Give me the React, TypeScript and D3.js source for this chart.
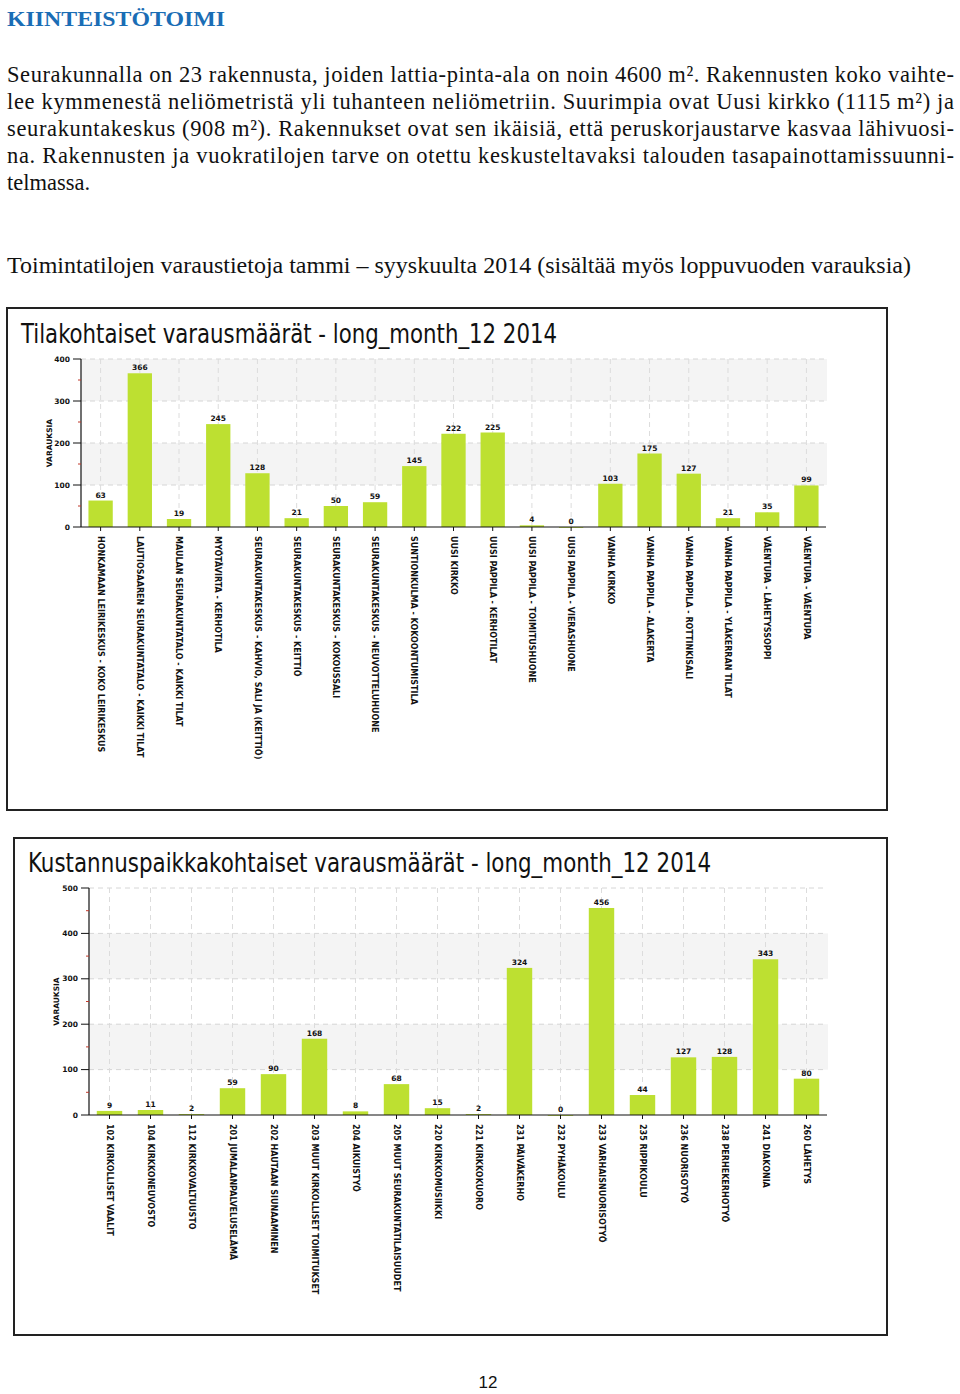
import React from "react"
import * as d3 from "d3"

// Tilakohtaiset varausmäärät
const roomNames = [
  "HONKAMAAN LEIRIKESKUS - KOKO LEIRIKESKUS",
  "LAUTIOSAAREN SEURAKUNTATALO - KAIKKI TILAT",
  "MAULAN SEURAKUNTATALO - KAIKKI TILAT",
  "MYÖTÄVIRTA - KERHOTILA",
  "SEURAKUNTAKESKUS - KAHVIO, SALI JA (KEITTIÖ)",
  "SEURAKUNTAKESKUS - KEITTIÖ",
  "SEURAKUNTAKESKUS - KOKOUSSALI",
  "SEURAKUNTAKESKUS - NEUVOTTELUHUONE",
  "SUNTIONKULMA - KOKOONTUMISTILA",
  "UUSI KIRKKO",
  "UUSI PAPPILA - KERHOTILAT",
  "UUSI PAPPILA - TOIMITUSHUONE",
  "UUSI PAPPILA - VIERASHUONE",
  "VANHA KIRKKO",
  "VANHA PAPPILA - ALAKERTA",
  "VANHA PAPPILA - ROTTINKISALI",
  "VANHA PAPPILA - YLÄKERRAN TILAT",
  "VÄENTUPA - LÄHETYSSOPPI",
  "VÄENTUPA - VÄENTUPA"
]
const roomBookings = [63, 366, 19, 245, 128, 21, 50, 59, 145, 222, 225, 4, 0, 103, 175, 127, 21, 35, 99]
const roomTicks = [0, 100, 200, 300, 400]

// Kustannuspaikkakohtaiset varausmäärät
const costNames = [
  "102 KIRKOLLISET VAALIT",
  "104 KIRKKONEUVOSTO",
  "112 KIRKKOVALTUUSTO",
  "201 JUMALANPALVELUSELÄMÄ",
  "202 HAUTAAN SIUNAAMINEN",
  "203 MUUT KIRKOLLISET TOIMITUKSET",
  "204 AIKUISTYÖ",
  "205 MUUT SEURAKUNTATILAISUUDET",
  "220 KIRKKOMUSIIKKI",
  "221 KIRKKOKUORO",
  "231 PÄIVÄKERHO",
  "232 PYHÄKOULU",
  "233 VARHAISNUORISOTYÖ",
  "235 RIPPIKOULU",
  "236 NUORISOTYÖ",
  "238 PERHEKERHOTYÖ",
  "241 DIAKONIA",
  "260 LÄHETYS"
]
const costBookings = [9, 11, 2, 59, 90, 168, 8, 68, 15, 2, 324, 0, 456, 44, 127, 128, 343, 80]
const costTicks = [0, 100, 200, 300, 400, 500]

const paragraph = [
  "Seurakunnalla on 23 rakennusta, joiden lattia-pinta-ala on noin 4600 m². Rakennusten koko vaihte-",
  "lee kymmenestä neliömetristä yli tuhanteen neliömetriin. Suurimpia ovat Uusi kirkko (1115 m²) ja",
  "seurakuntakeskus (908 m²). Rakennukset ovat sen ikäisiä, että peruskorjaustarve kasvaa lähivuosi-",
  "na. Rakennusten ja vuokratilojen tarve on otettu keskusteltavaksi talouden tasapainottamissuunni-",
  "telmassa."
]

const barColor = "#bde031"
const smallFont = "'DejaVu Sans', sans-serif"
const titleFont = "'DejaVu Sans Condensed', 'Liberation Sans Narrow', sans-serif"

function BarPanel(props) {
  const { box, title, titleX, titleY, titleLen, left, right, top, bottom, max, ticks, names, values, axisTitleX } = props

  const x = d3.scaleBand().domain(names).range([left, right]).paddingInner(0.38).paddingOuter(0.19)
  const y = d3.scaleLinear().domain([0, max]).range([bottom, top])
  const minor = d3.range(50, max, 100)
  const bands = [[100, 200], [300, 400]]

  return (
    <g>
      <rect x={box.x} y={box.y} width={box.w} height={box.h} fill="#fff" stroke="#222" strokeWidth={2} />
      <text x={titleX} y={titleY} fontFamily={titleFont} fontSize={27} fill="#111"
        textLength={titleLen} lengthAdjust="spacingAndGlyphs">{title}</text>

      {/* background bands */}
      {bands.map(b => (
        <rect key={b[0]} x={left} y={y(b[1])} width={right - left + 1} height={y(b[0]) - y(b[1])} fill="#f4f4f4" />
      ))}

      {/* grid */}
      {ticks.filter(t => t > 0).map(t => (
        <line key={t} x1={left} x2={right} y1={y(t)} y2={y(t)} stroke="#d6d6d6" strokeDasharray="5,4" />
      ))}
      {names.map(n => (
        <line key={n} x1={x(n) + x.bandwidth() / 2} x2={x(n) + x.bandwidth() / 2} y1={top} y2={bottom}
          stroke="#dcdcdc" strokeDasharray="5,4" />
      ))}

      {/* bars */}
      {names.map((n, i) => (
        <rect key={n} x={x(n)} y={y(values[i])} width={x.bandwidth()} height={Math.max(bottom - y(values[i]), 0.8)}
          fill={barColor} />
      ))}
      {names.map((n, i) => (
        <text key={n} x={x(n) + x.bandwidth() / 2} y={y(values[i]) - 3} textAnchor="middle"
          fontFamily={smallFont} fontSize={7.5} fontWeight="bold" fill="#111">{values[i]}</text>
      ))}

      {/* y axis */}
      <line x1={left} x2={left} y1={top} y2={bottom} stroke="#111" strokeWidth={1.2} />
      {ticks.map(t => (
        <g key={t}>
          <line x1={left - 8} x2={left} y1={y(t)} y2={y(t)} stroke="#111" />
          <text x={left - 11} y={y(t)} dy="0.35em" textAnchor="end" fontFamily={smallFont} fontSize={7.5}
            fontWeight="bold" fill="#111">{t}</text>
        </g>
      ))}
      {minor.map(t => (
        <line key={t} x1={left - 3} x2={left} y1={y(t)} y2={y(t)} stroke="#c0392b" />
      ))}
      <text transform={`translate(${axisTitleX},${(top + bottom) / 2}) rotate(-90)`} textAnchor="middle"
        fontFamily={smallFont} fontSize={7.5} fontWeight="bold" fill="#111">VARAUKSIA</text>

      {/* x axis */}
      <line x1={left} x2={right} y1={bottom} y2={bottom} stroke="#111" strokeWidth={1.2} />
      {names.map(n => (
        <g key={n} transform={`translate(${x(n) + x.bandwidth() / 2},${bottom})`}>
          <line y1={0} y2={4} stroke="#111" />
          <text transform="translate(0,9) rotate(90)" dy="0.35em" fontFamily={smallFont} fontSize={8}
            fontWeight="bold" fill="#111">{n}</text>
        </g>
      ))}
    </g>
  )
}

export default function App() {
  return (
    <svg width={960} height={1394} style={{ position: "absolute", left: 0, top: 0, background: "#fff" }}>
      <text x={7} y={26} fontFamily="'Liberation Serif', serif" fontWeight="bold" fontSize={22} fill="#1a6db5"
        textLength={218} lengthAdjust="spacingAndGlyphs">KIINTEISTÖTOIMI</text>
      {paragraph.map((line, i) => (
        <text key={i} x={7} y={82 + i * 27} fontFamily="'Liberation Serif', serif" fontSize={22.5} fill="#111"
          textLength={i < paragraph.length - 1 ? 947 : undefined} lengthAdjust="spacing">{line}</text>
      ))}
      <text x={7} y={273} fontFamily="'Liberation Serif', serif" fontSize={22.5} fill="#111"
        textLength={904} lengthAdjust="spacingAndGlyphs">
        Toimintatilojen varaustietoja tammi – syyskuulta 2014 (sisältää myös loppuvuoden varauksia)
      </text>

      <BarPanel box={{ x: 7, y: 308, w: 880, h: 502 }} title="Tilakohtaiset varausmäärät - long_month_12 2014"
        titleX={21} titleY={343} titleLen={536} left={81} right={826} top={359} bottom={527} max={400}
        ticks={roomTicks} names={roomNames} values={roomBookings} axisTitleX={52} />

      <BarPanel box={{ x: 14, y: 838, w: 873, h: 497 }} title="Kustannuspaikkakohtaiset varausmäärät - long_month_12 2014"
        titleX={28} titleY={872} titleLen={683} left={89} right={827} top={888} bottom={1115} max={500}
        ticks={costTicks} names={costNames} values={costBookings} axisTitleX={59} />

      <text x={488} y={1388} textAnchor="middle" fontFamily="'Liberation Sans', sans-serif" fontSize={17}
        fill="#111">12</text>
    </svg>
  )
}
